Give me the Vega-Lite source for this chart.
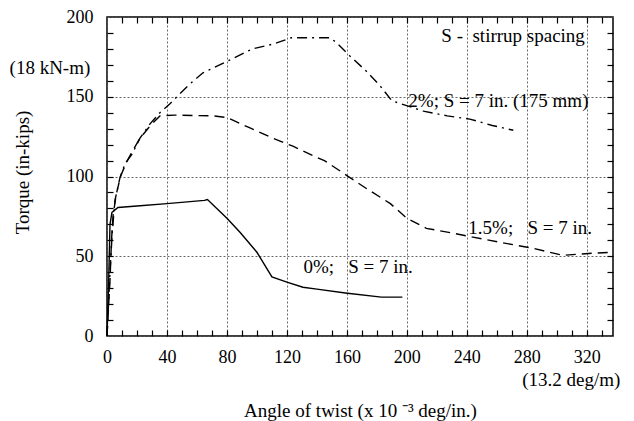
{
  "$schema": "https://vega.github.io/schema/vega-lite/v6.json",
  "width": 506,
  "height": 319,
  "autosize": {"type": "none"},
  "padding": {"left": 107, "top": 17, "right": 21, "bottom": 85},
  "background": "white",
  "config": {
    "font": "Liberation Serif",
    "view": {"stroke": "black", "strokeWidth": 1.5},
    "axis": {"labelFont": "Liberation Serif", "titleFont": "Liberation Serif", "labelColor": "black", "titleColor": "black", "titleFontWeight": "normal", "tickColor": "black"}
  },
  "datasets": {
    "curves": [
      {"series": "0%", "twist": 0, "torque": 0},
      {"series": "0%", "twist": 1, "torque": 30},
      {"series": "0%", "twist": 2, "torque": 70},
      {"series": "0%", "twist": 3.3, "torque": 77.5},
      {"series": "0%", "twist": 7.3, "torque": 80.6},
      {"series": "0%", "twist": 20, "torque": 81.5},
      {"series": "0%", "twist": 40, "torque": 83},
      {"series": "0%", "twist": 65, "torque": 85},
      {"series": "0%", "twist": 67, "torque": 85.6},
      {"series": "0%", "twist": 80, "torque": 73.8},
      {"series": "0%", "twist": 88.7, "torque": 65},
      {"series": "0%", "twist": 100, "torque": 52.5},
      {"series": "0%", "twist": 110, "torque": 37},
      {"series": "0%", "twist": 120, "torque": 33.8},
      {"series": "0%", "twist": 130.7, "torque": 30.6},
      {"series": "0%", "twist": 140, "torque": 29.4},
      {"series": "0%", "twist": 159, "torque": 27},
      {"series": "0%", "twist": 183, "torque": 24.4},
      {"series": "0%", "twist": 197, "torque": 24.4},
      {"series": "1.5%", "twist": 0, "torque": 0},
      {"series": "1.5%", "twist": 2, "torque": 35},
      {"series": "1.5%", "twist": 3, "torque": 60},
      {"series": "1.5%", "twist": 4, "torque": 75},
      {"series": "1.5%", "twist": 6, "torque": 88},
      {"series": "1.5%", "twist": 9, "torque": 100},
      {"series": "1.5%", "twist": 13, "torque": 109},
      {"series": "1.5%", "twist": 17, "torque": 116},
      {"series": "1.5%", "twist": 22, "torque": 124},
      {"series": "1.5%", "twist": 29, "torque": 132},
      {"series": "1.5%", "twist": 35.3, "torque": 138},
      {"series": "1.5%", "twist": 45, "torque": 138.5},
      {"series": "1.5%", "twist": 70.7, "torque": 138},
      {"series": "1.5%", "twist": 80, "torque": 137},
      {"series": "1.5%", "twist": 95, "torque": 130.6},
      {"series": "1.5%", "twist": 110.7, "torque": 124},
      {"series": "1.5%", "twist": 124, "torque": 119},
      {"series": "1.5%", "twist": 140, "torque": 112},
      {"series": "1.5%", "twist": 145, "torque": 110},
      {"series": "1.5%", "twist": 160, "torque": 100.6},
      {"series": "1.5%", "twist": 173, "torque": 92.5},
      {"series": "1.5%", "twist": 189, "torque": 83},
      {"series": "1.5%", "twist": 200, "torque": 73.8},
      {"series": "1.5%", "twist": 213, "torque": 67.5},
      {"series": "1.5%", "twist": 231, "torque": 64.4},
      {"series": "1.5%", "twist": 244, "torque": 62},
      {"series": "1.5%", "twist": 262, "torque": 58.8},
      {"series": "1.5%", "twist": 284, "torque": 55},
      {"series": "1.5%", "twist": 304, "torque": 50.6},
      {"series": "1.5%", "twist": 324, "torque": 51.9},
      {"series": "1.5%", "twist": 337, "torque": 52.5},
      {"series": "2%", "twist": 0, "torque": 0},
      {"series": "2%", "twist": 2, "torque": 40},
      {"series": "2%", "twist": 3.5, "torque": 65},
      {"series": "2%", "twist": 5.3, "torque": 85},
      {"series": "2%", "twist": 8.7, "torque": 99.4},
      {"series": "2%", "twist": 12, "torque": 108},
      {"series": "2%", "twist": 16.7, "torque": 114},
      {"series": "2%", "twist": 22, "torque": 124},
      {"series": "2%", "twist": 28.7, "torque": 133},
      {"series": "2%", "twist": 35.3, "torque": 140},
      {"series": "2%", "twist": 42, "torque": 145.6},
      {"series": "2%", "twist": 48.7, "torque": 152},
      {"series": "2%", "twist": 55.3, "torque": 158},
      {"series": "2%", "twist": 64, "torque": 165},
      {"series": "2%", "twist": 84, "torque": 174},
      {"series": "2%", "twist": 97, "torque": 180},
      {"series": "2%", "twist": 110.7, "torque": 183},
      {"series": "2%", "twist": 117, "torque": 185},
      {"series": "2%", "twist": 123, "torque": 187},
      {"series": "2%", "twist": 140, "torque": 187},
      {"series": "2%", "twist": 148.7, "torque": 187},
      {"series": "2%", "twist": 153, "torque": 184},
      {"series": "2%", "twist": 162, "torque": 175.6},
      {"series": "2%", "twist": 173, "torque": 166},
      {"series": "2%", "twist": 182, "torque": 157},
      {"series": "2%", "twist": 190, "torque": 147.5},
      {"series": "2%", "twist": 211, "torque": 141},
      {"series": "2%", "twist": 227, "torque": 138},
      {"series": "2%", "twist": 242, "torque": 136},
      {"series": "2%", "twist": 257, "torque": 132},
      {"series": "2%", "twist": 271, "torque": 129}
    ],
    "notes": [
      {"label": "S -\u00a0 stirrup spacing", "nx": 223, "ny": 188},
      {"label": "2%; S = 7 in. (175 mm)", "nx": 201, "ny": 147.5},
      {"label": "1.5%;\u00a0\u00a0 S = 7 in.", "nx": 241, "ny": 67.5},
      {"label": "0%;\u00a0\u00a0 S = 7 in.", "nx": 131, "ny": 43},
      {"label": "(18 kN-m)", "nx": -65, "ny": 168},
      {"label": "(13.2 deg/m)", "nx": 277, "ny": -27.5}
    ]
  },
  "resolve": {"axis": {"x": "independent", "y": "independent"}},
  "layer": [
    {
      "data": {"name": "curves"},
      "transform": [{"filter": "datum.series === '0%'"}],
      "mark": {"type": "line", "color": "black", "strokeWidth": 1.4},
      "encoding": {
        "x": {"field": "twist", "type": "quantitative", "scale": {"domain": [0, 337.5], "nice": false, "zero": false},
          "axis": {"orient": "bottom", "values": [0, 40, 80, 120, 160, 200, 240, 280, 320], "grid": true, "gridColor": "#555", "gridDash": [2, 2], "gridWidth": 0.9, "ticks": false, "domain": false, "labelFontSize": 18, "labelPadding": 12, "labelFlush": false,
            "title": "Angle of twist (x 10 ⁻³ deg/in.)", "titleFontSize": 19, "titleX": 253, "titleY": 74, "titleAlign": "center", "titleBaseline": "middle", "titleAnchor": null}},
        "y": {"field": "torque", "type": "quantitative", "scale": {"domain": [0, 200], "nice": false},
          "axis": {"orient": "left", "values": [0, 50, 100, 150, 200], "grid": true, "gridColor": "#555", "gridDash": [2, 2], "gridWidth": 0.9, "ticks": false, "domain": false, "labelFontSize": 18, "labelPadding": 14, "labelFlush": false,
            "title": "Torque (in-kips)", "titleFontSize": 19, "titleAngle": 270, "titleX": -85, "titleY": 155, "titleAlign": "center", "titleBaseline": "middle", "titleAnchor": null}}
      }
    },
    {
      "data": {"name": "curves"},
      "transform": [{"filter": "datum.series === '1.5%'"}],
      "mark": {"type": "line", "color": "black", "strokeWidth": 1.4, "strokeDash": [10, 6]},
      "encoding": {
        "x": {"field": "twist", "type": "quantitative", "scale": {"domain": [0, 337.5], "nice": false, "zero": false},
          "axis": {"orient": "bottom", "offset": -6, "tickSize": 6, "tickWidth": 1.2, "values": [10, 20, 30, 40, 50, 60, 70, 80, 90, 100, 110, 120, 130, 140, 150, 160, 170, 180, 190, 200, 210, 220, 230, 240, 250, 260, 270, 280, 290, 300, 310, 320, 330], "labels": false, "grid": false, "domain": false, "title": null}},
        "y": {"field": "torque", "type": "quantitative", "scale": {"domain": [0, 200], "nice": false},
          "axis": {"orient": "left", "offset": -6, "tickSize": 6, "tickWidth": 1.2, "values": [10, 20, 30, 40, 50, 60, 70, 80, 90, 100, 110, 120, 130, 140, 150, 160, 170, 180, 190], "labels": false, "grid": false, "domain": false, "title": null}}
      }
    },
    {
      "data": {"name": "curves"},
      "transform": [{"filter": "datum.series === '2%'"}],
      "mark": {"type": "line", "color": "black", "strokeWidth": 1.4, "strokeDash": [10, 5, 2, 5]},
      "encoding": {
        "x": {"field": "twist", "type": "quantitative", "scale": {"domain": [0, 337.5], "nice": false, "zero": false},
          "axis": {"orient": "top", "offset": -6, "tickSize": 6, "tickWidth": 1.2, "values": [10, 20, 30, 40, 50, 60, 70, 80, 90, 100, 110, 120, 130, 140, 150, 160, 170, 180, 190, 200, 210, 220, 230, 240, 250, 260, 270, 280, 290, 300, 310, 320, 330], "labels": false, "grid": false, "domain": false, "title": null}},
        "y": {"field": "torque", "type": "quantitative", "scale": {"domain": [0, 200], "nice": false},
          "axis": {"orient": "right", "offset": -6, "tickSize": 6, "tickWidth": 1.2, "values": [10, 20, 30, 40, 50, 60, 70, 80, 90, 100, 110, 120, 130, 140, 150, 160, 170, 180, 190], "labels": false, "grid": false, "domain": false, "title": null}}
      }
    },
    {
      "data": {"name": "notes"},
      "mark": {"type": "text", "align": "left", "baseline": "middle", "fontSize": 19, "font": "Liberation Serif", "color": "black", "clip": false},
      "encoding": {
        "x": {"field": "nx", "type": "quantitative", "scale": {"domain": [0, 337.5], "nice": false, "zero": false}, "axis": null},
        "y": {"field": "ny", "type": "quantitative", "scale": {"domain": [0, 200], "nice": false}, "axis": null},
        "text": {"field": "label"}
      }
    }
  ]
}
